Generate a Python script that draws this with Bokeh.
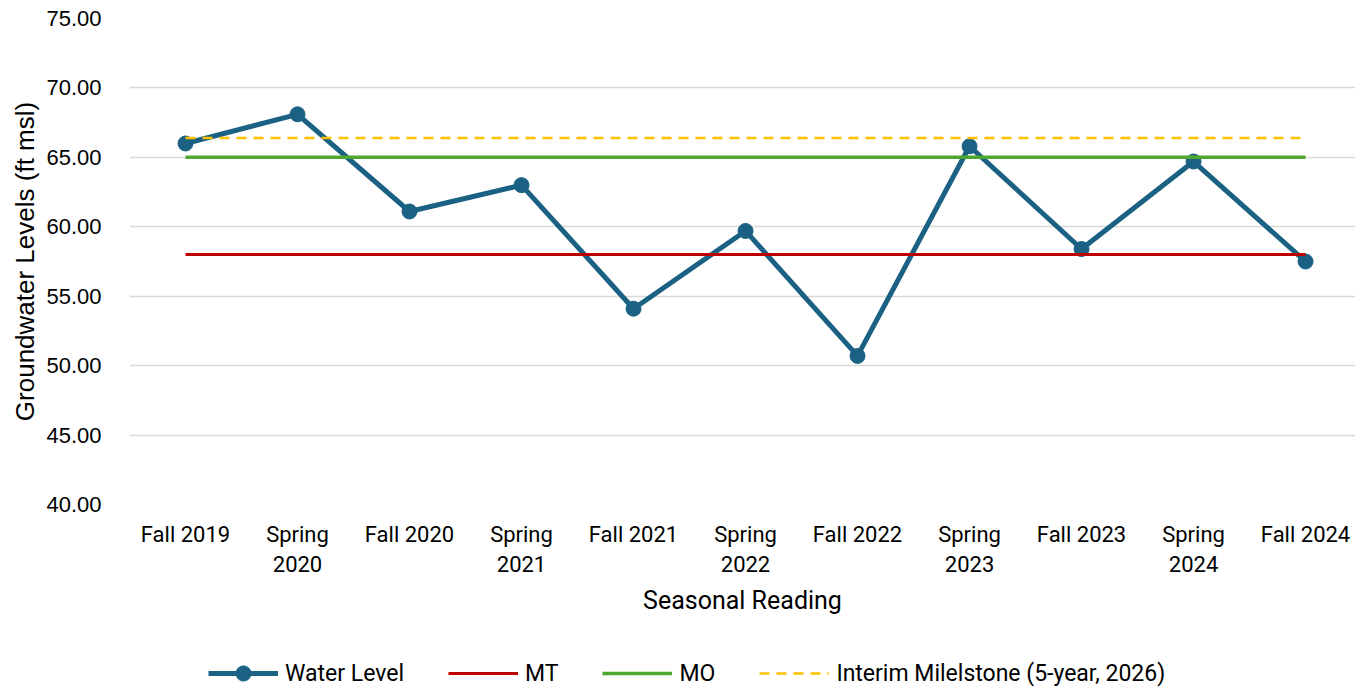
from bokeh.plotting import figure
from bokeh.layouts import column
from bokeh.models import Range1d, FixedTicker, Legend, LegendItem, NumeralTickFormatter, ColumnDataSource
from bokeh.embed import file_html
from bokeh.resources import INLINE

categories = ["Fall 2019", "Spring\n2020", "Fall 2020", "Spring\n2021", "Fall 2021", "Spring\n2022",
              "Fall 2022", "Spring\n2023", "Fall 2023", "Spring\n2024", "Fall 2024"]
water_level = [66.0, 68.1, 61.1, 63.0, 54.1, 59.7, 50.7, 65.8, 58.4, 64.7, 57.5]
mt_value = 58.0
mo_value = 65.0
interim_value = 66.4
y_ticks = [40, 45, 50, 55, 60, 65, 70, 75]

FONT = "Roboto"
WL_COLOR = "#1A6183"
MT_COLOR = "#C00000"
MO_COLOR = "#4EA72E"
IM_COLOR = "#FFC000"
xs = list(range(len(categories)))

p = figure(width=1355, height=640, output_backend="svg", toolbar_location=None,
           x_range=Range1d(-0.5, 10.446), y_range=Range1d(40, 75),
           min_border_left=129, min_border_right=0, min_border_top=18, min_border_bottom=136)
p.outline_line_color = None

src = ColumnDataSource(dict(x=xs, y=water_level))
p.line("x", "y", source=src, line_color=WL_COLOR, line_width=5)
p.scatter("x", "y", source=src, size=15, fill_color=WL_COLOR, line_color=WL_COLOR)
p.line([xs[0], xs[-1]], [mt_value, mt_value], line_color=MT_COLOR, line_width=3)
p.line([xs[0], xs[-1]], [mo_value, mo_value], line_color=MO_COLOR, line_width=3.5)
p.line([xs[0], xs[-1]], [interim_value, interim_value], line_color=IM_COLOR, line_width=2.5,
       line_dash="10 7")

p.xaxis.ticker = FixedTicker(ticks=xs)
p.xaxis.major_label_overrides = {i: c for i, c in enumerate(categories)}
p.yaxis.ticker = FixedTicker(ticks=y_ticks)
p.yaxis.formatter = NumeralTickFormatter(format="0.00")

for ax in (p.xaxis, p.yaxis):
    ax.axis_line_color = None
    ax.major_tick_line_color = None
    ax.minor_tick_line_color = None
    ax.major_label_text_font = FONT
    ax.major_label_text_color = "#000000"
    ax.axis_label_text_font = FONT
    ax.axis_label_text_font_size = "25px"
    ax.axis_label_text_font_style = "normal"
    ax.axis_label_text_color = "#000000"

p.xaxis.major_label_text_font_size = "22px"
p.yaxis.major_label_text_font_size = "22px"
p.yaxis.major_label_text_font = "Liberation Sans"
p.yaxis.axis_label_text_font = "Liberation Sans"
p.yaxis.axis_label_text_font_size = "26px"
p.xaxis.axis_label = "Seasonal Reading"
p.yaxis.axis_label = "Groundwater Levels (ft msl)"
p.xaxis.major_label_standoff = 11
p.yaxis.major_label_standoff = 22
p.xaxis.axis_label_standoff = 6
p.yaxis.axis_label_standoff = 3

p.xgrid.grid_line_color = None
p.ygrid.grid_line_color = "#D9D9D9"
p.ygrid.grid_line_width = 1.5

# legend strip below the chart (renderers hold off-screen points so only legend glyphs show)
lg = figure(width=1355, height=50, output_backend="svg", toolbar_location=None,
            x_range=Range1d(0, 1), y_range=Range1d(0, 1),
            x_axis_location=None, y_axis_location=None,
            min_border_left=0, min_border_right=0, min_border_top=0, min_border_bottom=0)
lg.outline_line_color = None
lg.grid.visible = False
off = dict(x=[5, 6], y=[5, 5])
r_wl = lg.line(off["x"], off["y"], line_color=WL_COLOR, line_width=5)
r_wp = lg.scatter(off["x"], off["y"], size=15, fill_color=WL_COLOR, line_color=WL_COLOR)
r_mt = lg.line(off["x"], off["y"], line_color=MT_COLOR, line_width=3)
r_mo = lg.line(off["x"], off["y"], line_color=MO_COLOR, line_width=3.5)
r_im = lg.line(off["x"], off["y"], line_color=IM_COLOR, line_width=2.5, line_dash="10 7")

legend = Legend(items=[
    LegendItem(label="Water Level", renderers=[r_wl, r_wp]),
    LegendItem(label="MT", renderers=[r_mt]),
    LegendItem(label="MO", renderers=[r_mo]),
    LegendItem(label="Interim Milelstone (5-year, 2026)", renderers=[r_im]),
], orientation="horizontal", location=(79, -2))
legend.border_line_color = None
legend.background_fill_alpha = 0
legend.label_text_font = FONT
legend.label_text_font_size = "23px"
legend.label_text_color = "#000000"
legend.glyph_width = 70
legend.glyph_height = 38
legend.label_standoff = 7
legend.spacing = 44
legend.padding = 0
legend.margin = 0
lg.add_layout(legend, "center")

layout = column(p, lg, spacing=0)
open("out.html", "w").write(file_html(layout, INLINE))
